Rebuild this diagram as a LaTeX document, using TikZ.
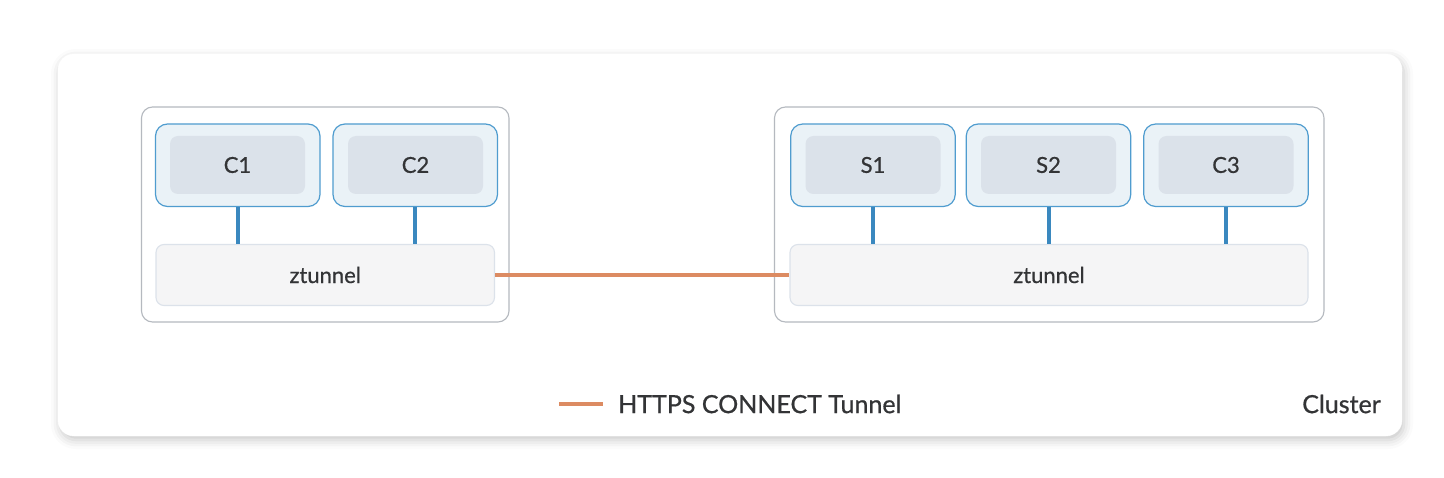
\documentclass[tikz,border=0pt]{standalone}
\usepackage{fontspec}
\setmainfont{Lato}
\newfontfamily\medfont{Lato}[FakeBold=0.7]
\usetikzlibrary{shadows.blur}
\definecolor{podfill}{HTML}{EAF2F7}
\definecolor{podline}{HTML}{4F9CCF}
\definecolor{innerfill}{HTML}{DBE2EA}
\definecolor{linkblue}{HTML}{3A88BF}
\definecolor{ztfill}{HTML}{F5F5F6}
\definecolor{ztline}{HTML}{DCE2EA}
\definecolor{boxline}{HTML}{B5B9BF}
\definecolor{tunnel}{HTML}{DC8B62}
\definecolor{txt}{HTML}{333436}
\tikzset{
  cluster/.style={draw=white, fill=white, rounded corners=16pt, minimum width=1344pt, minimum height=382pt,
    blur shadow={shadow xshift=2pt, shadow yshift=-4pt, shadow blur radius=9pt, shadow opacity=22}},
  nodebox/.style={draw=boxline, line width=1.1pt, fill=white, rounded corners=11pt, minimum height=215pt},
  pod/.style={draw=podline, line width=1.2pt, fill=podfill, rounded corners=12pt, minimum width=164.5pt, minimum height=82.5pt},
  inner/.style={fill=innerfill, rounded corners=8pt, minimum width=135pt, minimum height=58pt, text=txt,
    font=\medfont\fontsize{22}{26}\selectfont},
  zt/.style={draw=ztline, line width=1.1pt, fill=ztfill, rounded corners=8pt, minimum height=61pt, text=txt,
    font=\medfont\fontsize{22}{26}\selectfont},
  link/.style={draw=linkblue, line width=4pt},
  tun/.style={draw=tunnel, line width=4pt},
  lab/.style={text=txt, font=\medfont\fontsize{25}{29}\selectfont, inner sep=0pt},
}
\begin{document}
\begin{tikzpicture}[x=1pt, y=-1pt]
\useasboundingbox (0,0) rectangle (1444,478);
\node[cluster] (cl) at (730,245) {};
\node[nodebox, minimum width=367.5pt] (lb) at (325.25,214.5) {};
\node[nodebox, minimum width=549.5pt] (rb) at (1049.25,214.5) {};
% left pods
\node[pod] (p1) at (237.75,165.25) {};
\node[inner] (i1) at (237.5,165) {C1};
\node[pod] (p2) at (415.25,165.25) {};
\node[inner] (i2) at (415.5,165) {C2};
% right pods
\node[pod] (p3) at (873,165.25) {};
\node[inner] (i3) at (873,165) {S1};
\node[pod] (p4) at (1048.5,165.25) {};
\node[inner] (i4) at (1048.5,165) {S2};
\node[pod] (p5) at (1226,165.25) {};
\node[inner] (i5) at (1226,165) {C3};
% ztunnels
\node[zt, minimum width=338.5pt] (zl) at (325.25,275) {ztunnel};
\node[zt, minimum width=518pt] (zr) at (1049,275) {ztunnel};
% links
\draw[link] (p1.south) -- (p1.south |- zl.north);
\draw[link] (p2.south) -- (p2.south |- zl.north);
\draw[link] (p3.south) -- (p3.south |- zr.north);
\draw[link] (p4.south) -- (p4.south |- zr.north);
\draw[link] (p5.south) -- (p5.south |- zr.north);
\draw[tun] (zl.east) -- (zr.west);
% legend
\coordinate (la) at (559,404);
\coordinate (lz) at (603,404);
\draw[tun] (la) -- (lz);
\node[lab, anchor=west] (lt) at (618,404) {HTTPS CONNECT Tunnel};
\node[lab, anchor=east] (ct) at (1381,404) {Cluster};
\end{tikzpicture}
\end{document}
